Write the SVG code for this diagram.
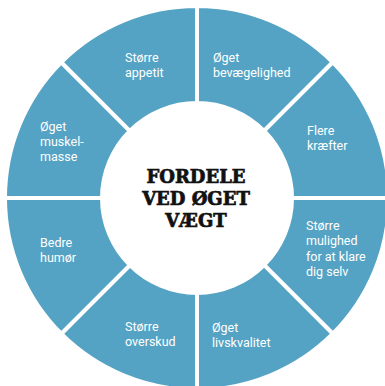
<svg xmlns="http://www.w3.org/2000/svg" width="385" height="386" viewBox="0 0 385 386">
<style>
.seg{fill:#54a3c4;stroke:#fff;stroke-width:4;stroke-linejoin:miter}
.lbl{font-family:Roboto,"Noto Sans",sans-serif;font-size:12.5px;fill:#fff}
.ttl{font-family:"DejaVu Serif","Liberation Serif",serif;font-weight:bold;font-size:18px;fill:#111;stroke:#111;stroke-width:0.7;text-anchor:middle}
</style>
<rect width="385" height="386" fill="#fff"/>
<g id="seg-bevaegelighed">
<path class="seg" d="M197,6 A192,192 0 0 1 332.76,62.24 L264.18,130.82 A95,95 0 0 0 197,103 Z"/>
<text class="lbl"><tspan x="213" y="62">Øget</tspan><tspan x="213" y="77">bevægelighed</tspan></text>
</g>
<g id="seg-kraefter">
<path class="seg" d="M332.76,62.24 A192,192 0 0 1 389,198 L292,198 A95,95 0 0 0 264.18,130.82 Z"/>
<text class="lbl"><tspan x="307" y="135">Flere</tspan><tspan x="307" y="150">kræfter</tspan></text>
</g>
<g id="seg-mulighed">
<path class="seg" d="M389,198 A192,192 0 0 1 332.76,333.76 L264.18,265.18 A95,95 0 0 0 292,198 Z"/>
<text class="lbl"><tspan x="306" y="230">Større</tspan><tspan x="306" y="245">mulighed</tspan><tspan x="306" y="261">for at klare</tspan><tspan x="306" y="276">dig selv</tspan></text>
</g>
<g id="seg-livskvalitet">
<path class="seg" d="M332.76,333.76 A192,192 0 0 1 197,390 L197,293 A95,95 0 0 0 264.18,265.18 Z"/>
<text class="lbl"><tspan x="212" y="332">Øget</tspan><tspan x="212" y="347">livskvalitet</tspan></text>
</g>
<g id="seg-overskud">
<path class="seg" d="M197,390 A192,192 0 0 1 61.24,333.76 L129.82,265.18 A95,95 0 0 0 197,293 Z"/>
<text class="lbl"><tspan x="125" y="331">Større</tspan><tspan x="125" y="346">overskud</tspan></text>
</g>
<g id="seg-humoer">
<path class="seg" d="M61.24,333.76 A192,192 0 0 1 5,198 L102,198 A95,95 0 0 0 129.82,265.18 Z"/>
<text class="lbl"><tspan x="40" y="247">Bedre</tspan><tspan x="40" y="262">humør</tspan></text>
</g>
<g id="seg-muskelmasse">
<path class="seg" d="M5,198 A192,192 0 0 1 61.24,62.24 L129.82,130.82 A95,95 0 0 0 102,198 Z"/>
<text class="lbl"><tspan x="40" y="131">Øget</tspan><tspan x="40" y="146">muskel-</tspan><tspan x="40" y="161">masse</tspan></text>
</g>
<g id="seg-appetit">
<path class="seg" d="M61.24,62.24 A192,192 0 0 1 197,6 L197,103 A95,95 0 0 0 129.82,130.82 Z"/>
<text class="lbl"><tspan x="125" y="62">Større</tspan><tspan x="125" y="77">appetit</tspan></text>
</g>
<g id="center">
<text class="ttl"><tspan x="196" y="183">FORDELE</tspan><tspan x="196" y="205">VED ØGET</tspan><tspan x="196" y="227">VÆGT</tspan></text>
</g>
</svg>
